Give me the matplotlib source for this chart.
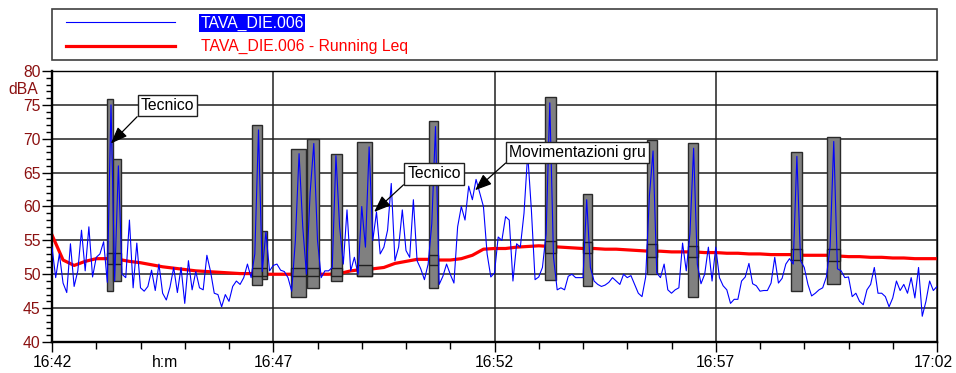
import numpy as np
import matplotlib
matplotlib.use("Agg")
import matplotlib.pyplot as plt
from matplotlib.patches import Rectangle
from matplotlib.ticker import MultipleLocator
from matplotlib.transforms import ScaledTranslation

plt.rcParams["font.family"] = ["Liberation Sans", "DejaVu Sans"]
plt.rcParams["font.size"] = 11.3

# x axis: minutes after 16:42
x_ticks = [0, 5, 10, 15, 20]
x_tick_labels = ["16:42", "16:47", "16:52", "16:57", "17:02"]

# measured level, one value every 5 s (dBA)
sample_s = 5
level = [
    54, 49.5, 53, 48.7, 47.3, 54.5, 48.2, 50.5, 56.5, 50.5, 57, 49.6,
    52.5, 53, 54.8, 48.8, 75, 49, 66, 50, 49.5, 58, 48, 54.6,
    48, 47.5, 48.2, 50.6, 47.6, 51.5, 47.2, 46.2, 48.1, 51, 47.3, 51,
    45.7, 52, 47.7, 50.4, 48, 47.7, 52.8, 50.4, 47.2, 47, 45.2, 47,
    46, 48.2, 49, 48.5, 49.5, 51.5, 49.5, 53, 71.3, 50.4, 56.2, 50.5,
    51.3, 51.5, 50.6, 50.4, 49.5, 47.5, 55, 67.8, 57, 50, 62, 69.3,
    55, 49.5, 50.5, 50.5, 51, 67.5, 57, 51.5, 59.5, 50.5, 52.5, 50,
    60, 54, 68.8, 55, 59.2, 53, 54, 56.5, 63.4, 52, 54, 59.5,
    53.5, 52.5, 61, 52, 50.8, 49.2, 51.5, 57.5, 71.8, 48.5, 49.7, 51.5,
    50, 48.7, 57, 60, 58, 63, 61, 64, 62, 60, 53, 49.6,
    50.2, 55.5, 55, 58.5, 58, 49, 54.5, 54, 59, 67.8, 59.5, 49.2,
    49.6, 51, 56, 75.3, 52.5, 47.7, 48, 47.7, 49.7, 50, 49.5, 49.5,
    49.5, 61, 51, 49, 48.5, 48.2, 48.4, 48.8, 49.5, 49, 48.5, 50,
    49.5, 49.8, 48.5, 47.2, 46.7, 49.6, 61.5, 68.2, 50.2, 49.5, 51.5, 47.7,
    47.2, 47.7, 48, 54.6, 50.5, 56, 68.6, 51.5, 48.6, 50, 54, 49,
    54, 49.5, 48.3, 47.7, 45.7, 46.3, 46.3, 49, 49.6, 51.6, 48.6, 48.3,
    47.5, 47.6, 47.6, 48.7, 52.5, 48.7, 49.4, 51.5, 52.3, 51.5, 67.4, 52,
    51, 48.5, 46.8, 47.2, 47.7, 48, 49.6, 54, 69.6, 50.8, 50.5, 49.5,
    49.6, 46.7, 47.2, 46, 45.5, 47.7, 48.5, 51, 47.2, 47.2, 46.7, 45.2,
    46.5, 49, 47.6, 48.5, 47.2, 49.5, 46.5, 51, 43.8, 46, 49, 47.6,
    48.2,
]

# running Leq, one value every 15 s (dBA)
leq_step_s = 15
running_leq = [
    55.8, 52.1, 51.3, 51.9, 52.3, 52.3, 52.2, 51.9, 51.7, 51.4,
    51.1, 50.9, 50.7, 50.5, 50.4, 50.3, 50.2, 50.1, 50.1, 50.0,
    50.0, 50.0, 50.0, 50.0, 50.0, 50.0, 50.1, 50.5, 50.7, 50.8,
    51.0, 51.6, 51.9, 52.2, 52.2, 52.1, 52.1, 52.3, 52.8, 53.7,
    53.8, 53.8, 54.0, 54.1, 54.2, 54.1, 54.0, 53.9, 53.8, 53.8,
    53.7, 53.7, 53.6, 53.5, 53.4, 53.4, 53.3, 53.3, 53.3, 53.2,
    53.2, 53.1, 53.1, 53.0, 53.0, 52.9, 52.9, 52.9, 52.8, 52.8,
    52.8, 52.7, 52.6, 52.6, 52.5, 52.5, 52.4, 52.4, 52.3, 52.3,
    52.3,
]

# marked events (minutes after 16:42, dBA)
ev_start = [1.25, 1.37, 4.51, 4.75, 5.41, 5.76, 6.30, 6.90, 8.53, 11.13, 12.01, 13.45, 14.38, 16.71, 17.51]
ev_end = [1.37, 1.55, 4.75, 4.85, 5.74, 6.03, 6.56, 7.24, 8.72, 11.39, 12.20, 13.68, 14.61, 16.94, 17.80]
ev_max = [75.8, 67.0, 72.0, 56.4, 68.5, 70.0, 67.8, 69.5, 72.6, 76.1, 61.9, 69.8, 69.4, 68.1, 70.3]
ev_min = [47.5, 49.0, 48.4, 49.3, 46.7, 48.0, 49.0, 49.7, 48.0, 49.1, 48.3, 50.1, 46.7, 47.6, 48.5]
ev_leq_lo = [51.5, 51.5, 49.7, 49.7, 49.7, 49.7, 49.7, 49.7, 51.3, 53.2, 53.1, 52.6, 52.5, 52.1, 51.9]
ev_leq_hi = [53.1, 53.1, 50.9, 50.9, 50.9, 50.9, 50.9, 51.4, 52.9, 54.9, 54.7, 54.4, 54.2, 53.7, 53.7]

notes = ["Tecnico", "Tecnico", "Movimentazioni gru"]
note_points = [(1.33, 69.3), (7.28, 59.2), (9.56, 62.4)]

t_level = np.arange(len(level)) * sample_s / 60
t_leq = np.arange(len(running_leq)) * leq_step_s / 60

fig = plt.figure(figsize=(9.56, 3.73), dpi=100)
ax = fig.add_axes([52 / 956, 1 - 342 / 373, 885 / 956, 271 / 373])

red_line, = ax.plot(t_leq, running_leq, color="#ff0000", lw=2.3, zorder=2)
ax.bar(ev_start, np.subtract(ev_max, ev_min), width=np.subtract(ev_end, ev_start),
       bottom=ev_min, align="edge", color="#808080", edgecolor="#2a2a2a", lw=1, zorder=3)
ax.bar(ev_start, np.subtract(ev_leq_hi, ev_leq_lo), width=np.subtract(ev_end, ev_start),
       bottom=ev_leq_lo, align="edge", color="#777777", edgecolor="#202020", lw=1, zorder=4)
blue_line, = ax.plot(t_level, level, color="#0000ff", lw=0.8, zorder=5)

text_pos = [(2.61, 74.9), (8.63, 64.8), (11.88, 68.0)]
for txt, pt, tp in zip(notes, note_points, text_pos):
    ax.annotate(txt, xy=pt, xytext=tp, ha="center", va="center", zorder=6,
                bbox=dict(boxstyle="square,pad=0.2", facecolor="white", edgecolor="#202020", lw=1),
                arrowprops=dict(arrowstyle="-|>,head_length=0.9,head_width=0.35", color="black",
                                lw=0.9, shrinkA=0, shrinkB=0, relpos=(0, 0)))

ax.set_xlim(0, 20)
ax.set_ylim(40, 80)
ax.set_xticks(x_ticks, x_tick_labels)
ax.xaxis.set_minor_locator(MultipleLocator(1))
ax.yaxis.set_major_locator(MultipleLocator(5))
ax.yaxis.set_minor_locator(MultipleLocator(1))
ax.set_axisbelow(True)
ax.grid(True, which="major", color="#202020", lw=1.1)

ax.tick_params(axis="x", which="major", length=7.2, width=1, pad=2.4)
ax.tick_params(axis="x", which="minor", length=4.7, width=1)
ax.tick_params(axis="y", which="major", length=7.2, width=1, pad=1, labelcolor="#8b1010")
ax.tick_params(axis="y", which="minor", length=4.3, width=1)

# keep the last time label inside the picture
last = ax.get_xticklabels()[-1]
last.set_transform(last.get_transform() + ScaledTranslation(-4 / 100, 0, fig.dpi_scale_trans))

for side in ["left", "bottom"]:
    ax.spines[side].set_linewidth(1.7)
for side in ["top", "right"]:
    ax.spines[side].set_linewidth(1.0)

ax.text(-0.016, 77.2, "dBA", transform=ax.get_yaxis_transform(), ha="right", va="center",
        color="#8b1010")
ax.annotate("h:m", xy=(2.55, 0), xycoords=("data", "axes fraction"), xytext=(0, -9.6),
            textcoords="offset points", ha="center", va="top")

# legend box above the plot
fig.patches.append(Rectangle((52 / 956, 1 - 60 / 373), 885 / 956, 51 / 373, transform=fig.transFigure,
                             fill=False, edgecolor="#404040", lw=1.2))
leg = fig.legend([blue_line, red_line], ["TAVA_DIE.006", "TAVA_DIE.006 - Running Leq"],
                 loc="center left", bbox_to_anchor=(53 / 956, 1 - 35 / 373), frameon=False,
                 handlelength=7.0, handletextpad=1.6, labelspacing=0.55, borderpad=0.3)
t0, t1 = leg.get_texts()
t0.set_color("white")
t0.set_bbox(dict(facecolor="#0000ff", edgecolor="none", pad=1))
t1.set_color("#ff0000")

fig.savefig("out.png", dpi=100)
